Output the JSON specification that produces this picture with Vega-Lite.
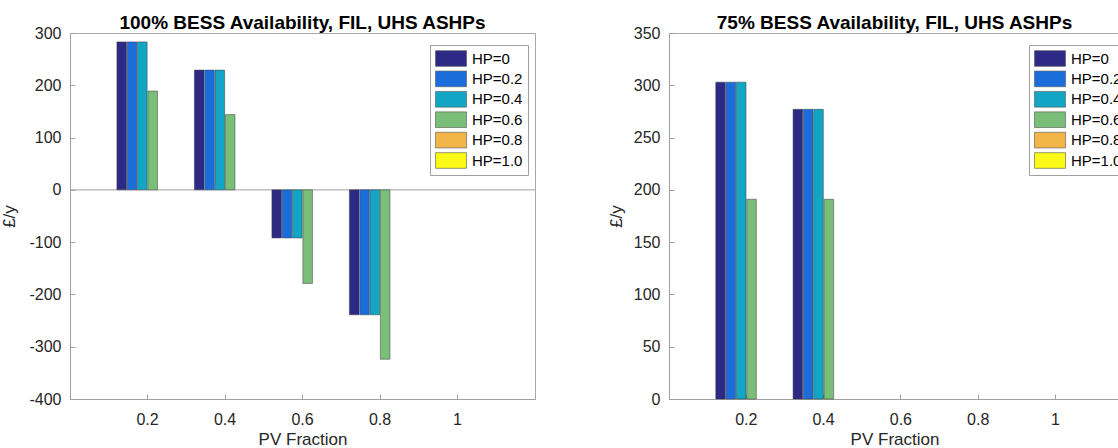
{
  "$schema": "https://vega.github.io/schema/vega-lite/v6.json",
  "padding": {"left": 0, "top": 13, "right": 0, "bottom": 0},
  "background": "white",
  "datasets": {
    "full": [
      {"pv": "0.2", "hp": "HP=0", "value": 283},
      {"pv": "0.2", "hp": "HP=0.2", "value": 283},
      {"pv": "0.2", "hp": "HP=0.4", "value": 283},
      {"pv": "0.2", "hp": "HP=0.6", "value": 189},
      {"pv": "0.2", "hp": "HP=0.8", "value": 0},
      {"pv": "0.2", "hp": "HP=1.0", "value": 0},
      {"pv": "0.4", "hp": "HP=0", "value": 229},
      {"pv": "0.4", "hp": "HP=0.2", "value": 229},
      {"pv": "0.4", "hp": "HP=0.4", "value": 229},
      {"pv": "0.4", "hp": "HP=0.6", "value": 144},
      {"pv": "0.4", "hp": "HP=0.8", "value": 0},
      {"pv": "0.4", "hp": "HP=1.0", "value": 0},
      {"pv": "0.6", "hp": "HP=0", "value": -92},
      {"pv": "0.6", "hp": "HP=0.2", "value": -92},
      {"pv": "0.6", "hp": "HP=0.4", "value": -92},
      {"pv": "0.6", "hp": "HP=0.6", "value": -179},
      {"pv": "0.6", "hp": "HP=0.8", "value": 0},
      {"pv": "0.6", "hp": "HP=1.0", "value": 0},
      {"pv": "0.8", "hp": "HP=0", "value": -239},
      {"pv": "0.8", "hp": "HP=0.2", "value": -239},
      {"pv": "0.8", "hp": "HP=0.4", "value": -239},
      {"pv": "0.8", "hp": "HP=0.6", "value": -324},
      {"pv": "0.8", "hp": "HP=0.8", "value": 0},
      {"pv": "0.8", "hp": "HP=1.0", "value": 0},
      {"pv": "1", "hp": "HP=0", "value": 0},
      {"pv": "1", "hp": "HP=0.2", "value": 0},
      {"pv": "1", "hp": "HP=0.4", "value": 0},
      {"pv": "1", "hp": "HP=0.6", "value": 0},
      {"pv": "1", "hp": "HP=0.8", "value": 0},
      {"pv": "1", "hp": "HP=1.0", "value": 0}
    ],
    "part": [
      {"pv": "0.2", "hp": "HP=0", "value": 303},
      {"pv": "0.2", "hp": "HP=0.2", "value": 303},
      {"pv": "0.2", "hp": "HP=0.4", "value": 303},
      {"pv": "0.2", "hp": "HP=0.6", "value": 191},
      {"pv": "0.2", "hp": "HP=0.8", "value": 0},
      {"pv": "0.2", "hp": "HP=1.0", "value": 0},
      {"pv": "0.4", "hp": "HP=0", "value": 277},
      {"pv": "0.4", "hp": "HP=0.2", "value": 277},
      {"pv": "0.4", "hp": "HP=0.4", "value": 277},
      {"pv": "0.4", "hp": "HP=0.6", "value": 191},
      {"pv": "0.4", "hp": "HP=0.8", "value": 0},
      {"pv": "0.4", "hp": "HP=1.0", "value": 0},
      {"pv": "0.6", "hp": "HP=0", "value": 0},
      {"pv": "0.6", "hp": "HP=0.2", "value": 0},
      {"pv": "0.6", "hp": "HP=0.4", "value": 0},
      {"pv": "0.6", "hp": "HP=0.6", "value": 0},
      {"pv": "0.6", "hp": "HP=0.8", "value": 0},
      {"pv": "0.6", "hp": "HP=1.0", "value": 0},
      {"pv": "0.8", "hp": "HP=0", "value": 0},
      {"pv": "0.8", "hp": "HP=0.2", "value": 0},
      {"pv": "0.8", "hp": "HP=0.4", "value": 0},
      {"pv": "0.8", "hp": "HP=0.6", "value": 0},
      {"pv": "0.8", "hp": "HP=0.8", "value": 0},
      {"pv": "0.8", "hp": "HP=1.0", "value": 0},
      {"pv": "1", "hp": "HP=0", "value": 0},
      {"pv": "1", "hp": "HP=0.2", "value": 0},
      {"pv": "1", "hp": "HP=0.4", "value": 0},
      {"pv": "1", "hp": "HP=0.6", "value": 0},
      {"pv": "1", "hp": "HP=0.8", "value": 0},
      {"pv": "1", "hp": "HP=1.0", "value": 0}
    ]
  },
  "config": {
    "font": "Liberation Sans",
    "view": {"stroke": "#a8a8a8", "strokeWidth": 1},
    "axis": {
      "domainColor": "#a0a0a0",
      "tickColor": "#a0a0a0",
      "tickSize": -5,
      "labelColor": "#262626",
      "titleColor": "#262626",
      "labelFontSize": 16,
      "titleFontSize": 17,
      "titleFontWeight": "normal",
      "grid": false,
      "labelAngle": 0,
      "labelExpr": "'' + datum.value"
    },
    "title": {"fontSize": 19, "fontWeight": "bold", "color": "#000000", "anchor": "middle", "offset": -8},
    "legend": {
      "orient": "none",
      "legendX": 360,
      "legendY": 12,
      "strokeColor": "#a0a0a0",
      "fillColor": "white",
      "padding": 5,
      "symbolType": "M-1,-0.98H2.88V0.98H-1Z",
      "symbolSize": 256,
      "symbolStrokeColor": "#555555",
      "symbolStrokeWidth": 0.6,
      "symbolOpacity": 1,
      "labelFontSize": 15,
      "labelColor": "#000000",
      "labelOffset": 20,
      "rowPadding": 1.4
    },
    "concat": {"spacing": 70}
  },
  "hconcat": [
    {
      "width": 465,
      "height": 366,
      "title": "100% BESS Availability, FIL, UHS ASHPs",
      "layer": [
        {
          "data": {"values": [{}]},
          "mark": {"type": "rule", "color": "#a0a0a0"},
          "encoding": {"y": {"datum": 0}}
        },
        {
          "data": {"name": "full"},
          "mark": {"type": "bar", "stroke": "#3a3a3a", "strokeWidth": 0.5, "opacity": 1},
          "encoding": {
            "x": {
              "field": "pv", "type": "ordinal", "title": "PV Fraction",
              "scale": {"domain": ["0.2", "0.4", "0.6", "0.8", "1"], "paddingInner": 0, "paddingOuter": 0.5},
              "axis": {"labelPadding": 17, "titlePadding": 4}
            },
            "xOffset": {
              "field": "hp", "type": "nominal",
              "scale": {"domain": ["HP=0", "HP=0.2", "HP=0.4", "HP=0.6", "HP=0.8", "HP=1.0"], "paddingInner": 0.07, "paddingOuter": 0.79}
            },
            "y": {
              "field": "value", "type": "quantitative", "title": "£/y",
              "scale": {"domain": [-400, 300], "nice": false},
              "axis": {"values": [-400, -300, -200, -100, 0, 100, 200, 300], "labelPadding": 14, "titlePadding": 10}
            },
            "color": {
              "field": "hp", "type": "nominal",
              "scale": {"domain": ["HP=0", "HP=0.2", "HP=0.4", "HP=0.6", "HP=0.8", "HP=1.0"], "range": ["#2d2a85", "#1a6ddb", "#12a6c4", "#79be79", "#f1b548", "#fafa16"]},
              "legend": {"title": null, "labelExpr": "datum.label"}
            },
            "strokeOpacity": {"condition": {"test": "datum.value == 0", "value": 0}, "value": 1}
          }
        }
      ]
    },
    {
      "width": 451,
      "height": 366,
      "title": "75% BESS Availability, FIL, UHS ASHPs",
      "data": {"name": "part"},
      "mark": {"type": "bar", "stroke": "#3a3a3a", "strokeWidth": 0.5, "opacity": 1},
      "encoding": {
        "x": {
          "field": "pv", "type": "ordinal", "title": "PV Fraction",
          "scale": {"domain": ["0.2", "0.4", "0.6", "0.8", "1"], "paddingInner": 0, "paddingOuter": 0.417, "align": 0.599},
          "axis": {"labelPadding": 17, "titlePadding": 4}
        },
        "xOffset": {
          "field": "hp", "type": "nominal",
          "scale": {"domain": ["HP=0", "HP=0.2", "HP=0.4", "HP=0.6", "HP=0.8", "HP=1.0"], "paddingInner": 0.07, "paddingOuter": 0.79}
        },
        "y": {
          "field": "value", "type": "quantitative", "title": "£/y",
          "scale": {"domain": [0, 350], "nice": false},
          "axis": {"values": [0, 50, 100, 150, 200, 250, 300, 350], "labelPadding": 14, "titlePadding": 8}
        },
        "color": {
          "field": "hp", "type": "nominal",
          "scale": {"domain": ["HP=0", "HP=0.2", "HP=0.4", "HP=0.6", "HP=0.8", "HP=1.0"], "range": ["#2d2a85", "#1a6ddb", "#12a6c4", "#79be79", "#f1b548", "#fafa16"]},
          "legend": {"title": null, "labelExpr": "datum.label"}
        },
        "strokeOpacity": {"condition": {"test": "datum.value == 0", "value": 0}, "value": 1}
      }
    }
  ],
  "resolve": {"legend": {"color": "independent"}, "scale": {"y": "independent", "x": "independent", "color": "independent"}}
}
